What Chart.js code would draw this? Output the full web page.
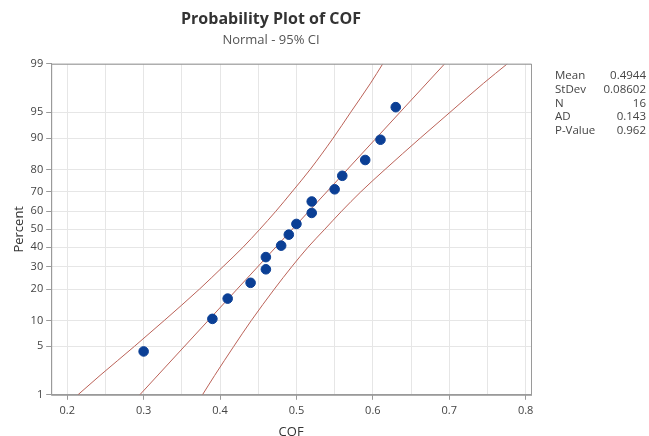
<!DOCTYPE html>
<html>
<head>
<meta charset="utf-8">
<script src="https://cdn.jsdelivr.net/npm/chart.js@4.4.0/dist/chart.umd.min.js"></script>
<style>
  html, body { margin: 0; padding: 0; background: #fff; }
  #contenedor { width: 649px; height: 436px; }
</style>
</head>
<body>
<div id="contenedor"><canvas id="grafica"></canvas></div>
<script>
// Datos (COF y percent por punto)
const cofValores = [0.30, 0.39, 0.41, 0.44, 0.46, 0.46, 0.48, 0.49, 0.50, 0.52, 0.52, 0.55, 0.56, 0.59, 0.61, 0.63];
const percentValores = [4.3, 10.4, 16.5, 22.6, 28.7, 34.8, 40.9, 47.0, 53.0, 59.1, 65.2, 71.3, 77.4, 83.5, 89.6, 95.7];

// Línea ajustada y bandas del 95% CI (COF a cada nivel de percent)
const ajustePct = [1, 99];
const ajusteCof = [0.295, 0.694];
const bandaPct = [1, 2, 5, 10, 20, 30, 40, 50, 60, 70, 80, 90, 95, 98, 99];
const bandaInferior = [0.214, 0.243, 0.288, 0.327, 0.373, 0.404, 0.430, 0.452, 0.473, 0.494, 0.518, 0.548, 0.571, 0.597, 0.613];
const bandaSuperior = [0.377, 0.393, 0.418, 0.441, 0.471, 0.494, 0.515, 0.537, 0.559, 0.584, 0.616, 0.662, 0.701, 0.745, 0.776];

// Etiquetas de los ejes
const ticksPercent = [1, 5, 10, 20, 30, 40, 50, 60, 70, 80, 90, 95, 99];
const ticksCof = [0.2, 0.25, 0.3, 0.35, 0.4, 0.45, 0.5, 0.55, 0.6, 0.65, 0.7, 0.75, 0.8];

// Tabla de estadísticos
const etiquetasStats = ['Mean', 'StDev', 'N', 'AD', 'P-Value'];
const valoresStats = ['0.4944', '0.08602', '16', '0.143', '0.962'];

const fuente = '"Open Sans", "Noto Sans", sans-serif';
const colorLinea = '#bb6258';

// Inversa de la normal (Acklam) para la escala de probabilidad
function probit(p) {
    const a = [-3.969683028665376e+01, 2.209460984245205e+02, -2.759285104469687e+02, 1.383577518672690e+02, -3.066479806614716e+01, 2.506628277459239e+00];
    const b = [-5.447609879822406e+01, 1.615858368580409e+02, -1.556989798598866e+02, 6.680131188771972e+01, -1.328068155288572e+01];
    const c = [-7.784894002430293e-03, -3.223964580411365e-01, -2.400758277161838e+00, -2.549732539343734e+00, 4.374664141464968e+00, 2.938163982698783e+00];
    const d = [7.784695709041462e-03, 3.224671290700398e-01, 2.445134137142996e+00, 3.754408661907416e+00];
    const plow = 0.02425;
    let q, r;
    if (p < plow) {
        q = Math.sqrt(-2 * Math.log(p));
        return (((((c[0]*q+c[1])*q+c[2])*q+c[3])*q+c[4])*q+c[5]) / ((((d[0]*q+d[1])*q+d[2])*q+d[3])*q+1);
    }
    if (p <= 1 - plow) {
        q = p - 0.5; r = q * q;
        return (((((a[0]*r+a[1])*r+a[2])*r+a[3])*r+a[4])*r+a[5])*q / (((((b[0]*r+b[1])*r+b[2])*r+b[3])*r+b[4])*r+1);
    }
    q = Math.sqrt(-2 * Math.log(1 - p));
    return -(((((c[0]*q+c[1])*q+c[2])*q+c[3])*q+c[4])*q+c[5]) / ((((d[0]*q+d[1])*q+d[2])*q+d[3])*q+1);
}

const aPuntos = (xs, ps) => xs.map((x, i) => ({ x: x, y: probit(ps[i] / 100) }));

// Marco del área y tabla de estadísticos
const pluginExtras = {
    id: 'extras',
    afterDraw(chart) {
        const ctx = chart.ctx;
        const area = chart.chartArea;
        ctx.save();
        ctx.strokeStyle = '#9a9a9a';
        ctx.lineWidth = 1;
        ctx.strokeRect(area.left + 0.5, area.top + 0.5, area.right - area.left, area.bottom - area.top);
        ctx.font = '11.5px ' + fuente;
        ctx.fillStyle = '#444';
        ctx.textBaseline = 'middle';
        etiquetasStats.forEach((et, i) => {
            const y = 76 + i * 13.7;
            ctx.textAlign = 'left';
            ctx.fillText(et, 555, y);
            ctx.textAlign = 'right';
            ctx.fillText(valoresStats[i], 646, y);
        });
        ctx.restore();
    }
};

new Chart(document.getElementById('grafica'), {
    type: 'scatter',
    data: {
        datasets: [
            {
                label: 'COF',
                data: aPuntos(cofValores, percentValores),
                backgroundColor: '#0b3f95',
                borderColor: '#0b3f95',
                pointRadius: 4.8,
                pointHoverRadius: 4.8,
                order: 0
            },
            {
                label: 'Ajuste',
                data: aPuntos(ajusteCof, ajustePct),
                showLine: true,
                borderColor: colorLinea,
                borderWidth: 1,
                pointRadius: 0,
                order: 1
            },
            {
                label: 'Inferior',
                data: aPuntos(bandaInferior, bandaPct),
                showLine: true,
                borderColor: colorLinea,
                borderWidth: 1,
                pointRadius: 0,
                cubicInterpolationMode: 'monotone',
                order: 1
            },
            {
                label: 'Superior',
                data: aPuntos(bandaSuperior, bandaPct),
                showLine: true,
                borderColor: colorLinea,
                borderWidth: 1,
                pointRadius: 0,
                cubicInterpolationMode: 'monotone',
                order: 1
            }
        ]
    },
    options: {
        responsive: true,
        maintainAspectRatio: false,
        animation: false,
        layout: { padding: { left: 11, right: 118, top: 0, bottom: -3 } },
        plugins: {
            legend: { display: false },
            tooltip: { enabled: false },
            title: {
                display: true,
                text: 'Probability Plot of COF',
                color: '#333',
                font: { family: fuente, size: 16, weight: 'bold' },
                padding: { top: 10, bottom: 3 }
            },
            subtitle: {
                display: true,
                text: 'Normal - 95% CI',
                color: '#555',
                font: { family: fuente, size: 13 },
                padding: { top: 0, bottom: 16 }
            }
        },
        scales: {
            x: {
                type: 'linear',
                min: 0.179,
                max: 0.807,
                afterBuildTicks: eje => { eje.ticks = ticksCof.map(v => ({ value: v })); },
                ticks: {
                    autoSkip: false,
                    maxRotation: 0,
                    color: '#444',
                    font: { family: fuente, size: 11 },
                    padding: 4,
                    callback: v => (Math.abs(v * 10 - Math.round(v * 10)) < 1e-6 ? v.toFixed(1) : '')
                },
                grid: {
                    color: '#e6e6e6',
                    tickLength: 5,
                    tickColor: c => (c.tick && Math.abs(c.tick.value * 10 - Math.round(c.tick.value * 10)) < 1e-6 ? '#9a9a9a' : 'rgba(0,0,0,0)')
                },
                border: { display: true, color: '#9a9a9a' },
                title: {
                    display: true,
                    text: 'COF',
                    color: '#333',
                    font: { family: fuente, size: 13, lineHeight: 1 },
                    padding: { top: 5, bottom: 0 }
                }
            },
            y: {
                type: 'linear',
                min: probit(0.01),
                max: probit(0.99),
                afterBuildTicks: eje => { eje.ticks = ticksPercent.map(p => ({ value: probit(p / 100) })); },
                ticks: {
                    autoSkip: false,
                    color: '#444',
                    font: { family: fuente, size: 11 },
                    padding: 3,
                    callback: (v, i) => ticksPercent[i]
                },
                grid: { color: '#e6e6e6', tickLength: 5, tickColor: '#9a9a9a' },
                border: { display: true, color: '#9a9a9a' },
                title: {
                    display: true,
                    text: 'Percent',
                    color: '#333',
                    font: { family: fuente, size: 13 },
                    padding: { top: 0, bottom: 1 }
                }
            }
        }
    },
    plugins: [pluginExtras]
});
</script>
</body>
</html>
